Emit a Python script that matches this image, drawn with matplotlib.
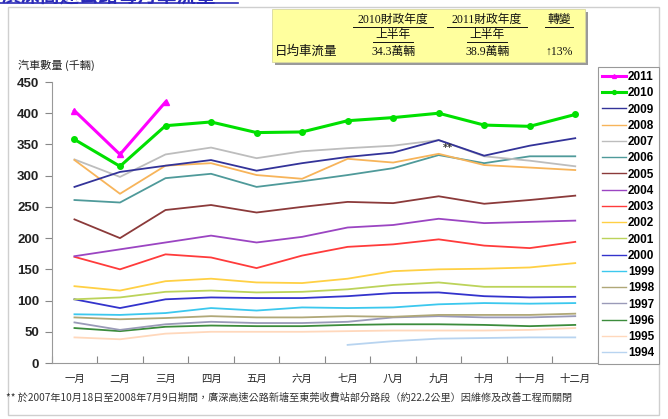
import matplotlib
matplotlib.use('Agg')
from matplotlib import pyplot as plt
from matplotlib.lines import Line2D
from matplotlib.patches import Rectangle
import numpy as np

W, H = 668, 419

months = ['一月', '二月', '三月', '四月', '五月', '六月',
          '七月', '八月', '九月', '十月', '十一月', '十二月']

years = ['2011', '2010', '2009', '2008', '2007', '2006', '2005', '2004', '2003',
         '2002', '2001', '2000', '1999', '1998', '1997', '1996', '1995', '1994']

traffic = {
    '2011': [404, 334, 418],
    '2010': [358, 315, 380, 386, 369, 370, 388, 393, 400, 381, 379, 398],
    '2009': [282, 306, 316, 325, 308, 320, 330, 337, 357, 332, 348, 360],
    '2008': [325, 271, 316, 320, 301, 295, 327, 321, 335, 317, 313, 309],
    '2007': [326, 298, 334, 345, 328, 339, 344, 348, 357, 331, 324, 315],
    '2006': [261, 257, 296, 303, 282, 291, 301, 312, 333, 320, 331, 331],
    '2005': [230, 200, 245, 253, 241, 250, 258, 256, 267, 255, 261, 268],
    '2004': [171, 182, 193, 204, 193, 202, 217, 221, 231, 224, 226, 228],
    '2003': [170, 150, 174, 169, 152, 172, 186, 190, 198, 188, 184, 194],
    '2002': [123, 116, 131, 135, 129, 128, 135, 147, 150, 151, 153, 160],
    '2001': [102, 105, 114, 116, 113, 114, 118, 125, 129, 122, 122, 122],
    '2000': [102, 88, 102, 105, 104, 104, 107, 112, 113, 107, 105, 106],
    '1999': [78, 77, 80, 88, 84, 89, 88, 89, 94, 96, 95, 96],
    '1998': [73, 70, 72, 75, 73, 73, 75, 74, 77, 77, 77, 79],
    '1997': [65, 53, 62, 66, 64, 64, 66, 73, 75, 73, 73, 75],
    '1996': [56, 51, 58, 60, 59, 59, 61, 62, 62, 61, 59, 61],
    '1995': [41, 38, 47, 50, 50, 50, 51, 52, 52, 52, 53, 56],
    '1994': [None] * 6 + [29, 35, 39, 40, 41, 41],
}

colors = {
    '2011': '#FF00FF', '2010': '#00E000', '2009': '#333399', '2008': '#F7B45A',
    '2007': '#BDBDBD', '2006': '#4F9A9A', '2005': '#8B3A3A', '2004': '#9B45C2',
    '2003': '#FF3B3B', '2002': '#FFD044', '2001': '#BCD35A', '2000': '#3333CC',
    '1999': '#3CC8EE', '1998': '#B0A878', '1997': '#9A9AB8', '1996': '#3C8C3C',
    '1995': '#FFD8BC', '1994': '#B8D4F0',
}

header_cols = ['2010財政年度', '2011財政年度', '轉變']
row_label = '日均車流量'
row_values = ['34.3萬輛', '38.9萬輛', '↑13%']

CJK = ['Noto Sans CJK TC', 'DejaVu Sans']
SERIF = ['Liberation Serif', 'Noto Sans CJK TC']


def fx(px):
    return px / W


def fy(py):
    return 1 - py / H


fig = plt.figure(figsize=(W / 100, H / 100), dpi=100)

# outer frame
fig.patches.append(Rectangle((fx(8), fy(415)), fx(659) - fx(8), fy(7) - fy(415),
                             transform=fig.transFigure, fill=False,
                             edgecolor='#CFCFCF', lw=1, zorder=0))

# title, cut off at the top edge as in the source
fig.text(fx(2), fy(-3), '廣深高速公路每月車流量', family=CJK, fontsize=14,
         color='#2B2BB8', ha='left', va='center', weight='bold')
fig.lines.append(Line2D([fx(0), fx(238)], [fy(3), fy(3)], transform=fig.transFigure,
                        color='#2B2BB8', lw=1.2))

ax = fig.add_axes([fx(51.7), fy(363), fx(598) - fx(51.7), fy(82) - fy(363)])
x = np.arange(len(months))
for yr in years[::-1]:
    vals = np.array([np.nan if v is None else v for v in traffic[yr]], dtype=float)
    xs = x[:len(vals)]
    if yr == '2011':
        ax.plot(xs, vals, color=colors[yr], lw=2.2, marker='^', ms=4, zorder=5, label=yr)
    elif yr == '2010':
        ax.plot(xs, vals, color=colors[yr], lw=2.2, marker='o', ms=4, zorder=4, label=yr)
    else:
        ax.plot(xs, vals, color=colors[yr], lw=1.3, zorder=3, label=yr)

ax.text(8.2, 344, '**', fontsize=7, color='#333333', ha='center', va='center',
        weight='bold')

ax.set_xlim(-0.5, 11.5)
ax.set_ylim(0, 450)
ax.set_yticks(np.arange(0, 451, 50))
ax.set_xticks(np.arange(-0.5, 12, 1))
ax.set_xticklabels([])
ax.set_xticks(x, minor=True)
ax.set_xticklabels(months, minor=True, family=CJK, fontsize=7.5, color='#222222')
ax.tick_params(axis='x', which='minor', length=0, pad=8)
ax.tick_params(axis='x', which='major', length=5, color='#888888', direction='in')
ax.tick_params(axis='y', length=5, color='#888888', pad=4)
for lab in ax.get_yticklabels():
    lab.set_family('Liberation Sans')
    lab.set_weight('bold')
    lab.set_fontsize(9.5)
    lab.set_color('#222222')
for s in ['top', 'right']:
    ax.spines[s].set_visible(False)
for s in ['left', 'bottom']:
    ax.spines[s].set_color('#999999')
ax.patch.set_alpha(0)

fig.text(fx(18), fy(65), '汽車數量 (千輛)', family=CJK, fontsize=8,
         color='#222222', ha='left', va='center')

# legend
handles, labels = ax.get_legend_handles_labels()
order = [labels.index(y) for y in years]
leg = fig.legend([handles[i] for i in order], [labels[i] for i in order],
                 loc='upper left', bbox_to_anchor=(fx(598), fy(67)),
                 fancybox=False, edgecolor='#999999', framealpha=1,
                 prop={'family': 'Liberation Sans', 'weight': 'bold', 'size': 8.5},
                 labelspacing=0.36, handlelength=2.0, handletextpad=0.2,
                 borderpad=0.35, borderaxespad=0, markerscale=0.7)
leg.get_frame().set_linewidth(0.8)
for ln in leg.get_lines():
    if ln.get_label() not in ('2011', '2010'):
        ln.set_linewidth(1.0)

# summary table
fig.patches.append(Rectangle((fx(275), fy(65)), fx(588) - fx(275), fy(12) - fy(65),
                             transform=fig.transFigure, facecolor='#9A9A9A',
                             edgecolor='none', zorder=1))
fig.patches.append(Rectangle((fx(272), fy(62)), fx(585) - fx(272), fy(9) - fy(62),
                             transform=fig.transFigure, facecolor='#FFFF9E',
                             edgecolor='#D8D8A0', lw=0.6, zorder=2))

col_x = [393, 487, 559]
under = [(353, 433), (447, 527), (545, 573)]
for cx, txt, (u0, u1) in zip(col_x, header_cols, under):
    fig.text(fx(cx), fy(20), txt, family=SERIF, fontsize=8.5, color='#111111',
             ha='center', va='center', zorder=3)
    fig.lines.append(Line2D([fx(u0), fx(u1)], [fy(27), fy(27)],
                            transform=fig.transFigure, color='#111111', lw=0.7, zorder=3))
for cx in col_x[:2]:
    fig.text(fx(cx), fy(35), '上半年', family=SERIF, fontsize=8.5, color='#111111',
             ha='center', va='center', zorder=3)
    fig.lines.append(Line2D([fx(cx - 20), fx(cx + 20)], [fy(42), fy(42)],
                            transform=fig.transFigure, color='#111111', lw=0.7, zorder=3))
fig.text(fx(275), fy(52), row_label, family=SERIF, fontsize=9, color='#111111',
         ha='left', va='center', zorder=3)
for cx, txt in zip(col_x, row_values):
    fig.text(fx(cx), fy(52), txt, family=SERIF, fontsize=8.5, color='#111111',
             ha='center', va='center', zorder=3)

# footnote
fig.text(fx(6), fy(398),
         '** 於2007年10月18日至2008年7月9日期間，廣深高速公路新塘至東莞收費站部分路段（約22.2公里）因維修及改善工程而關閉',
         family=CJK, fontsize=7.3, color='#333333', ha='left', va='center',
         style='italic')

fig.savefig('out.png', dpi=100)
